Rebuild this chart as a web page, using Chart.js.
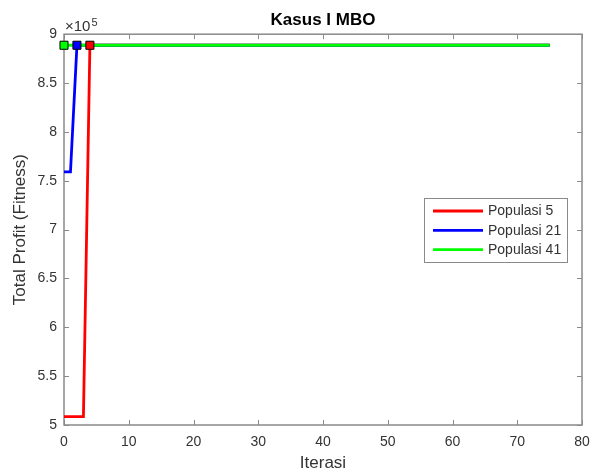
<!DOCTYPE html>
<html>
<head>
<meta charset="utf-8">
<script src="https://cdn.jsdelivr.net/npm/chart.js@4.4.1/dist/chart.umd.min.js"></script>
<style>
  html, body { margin: 0; padding: 0; background: #ffffff; }
  #wrap { width: 590px; height: 472px; }
</style>
</head>
<body>
<div id="wrap"><canvas id="c" width="590" height="472"></canvas></div>
<script>
// ---- data ----
const chartTitle = 'Kasus I MBO';
const xLabel = 'Iterasi';
const yLabel = 'Total Profit (Fitness)';
const seriesNames = ['Populasi 5', 'Populasi 21', 'Populasi 41'];
const seriesColors = ['#ff0000', '#0000ff', '#00ff00'];

// vertices of each convergence curve (iteration, fitness)
const redIter = [0, 3, 4, 75];
const redFitness = [508500, 508500, 888700, 888700];
const blueIter = [0, 1, 2, 75];
const blueFitness = [759000, 759000, 888700, 888700];
const greenIter = [0, 75];
const greenFitness = [888700, 888700];

// iteration where each series first reaches its best value (square marker)
const bestIter = [4, 2, 0];

const xTicksMin = 0, xTicksMax = 80, xStep = 10;
const yTicksMin = 500000, yTicksMax = 900000, yStep = 50000;
const yExponent = 5;

const seriesIter = [redIter, blueIter, greenIter];
const seriesFitness = [redFitness, blueFitness, greenFitness];

function toPoints(xs, ys) { return xs.map((x, i) => ({ x: x, y: ys[i] })); }

const lineSets = seriesNames.map((name, i) => ({
  label: name,
  data: toPoints(seriesIter[i], seriesFitness[i]),
  borderColor: seriesColors[i],
  backgroundColor: seriesColors[i],
  borderWidth: 2.8,
  pointRadius: 0,
  tension: 0,
  fill: false,
  order: 10 - i
}));

const markerSets = seriesNames.map((name, i) => {
  const idx = seriesIter[i].indexOf(bestIter[i]);
  return {
    label: name + ' best',
    data: [{ x: bestIter[i], y: seriesFitness[i][idx] }],
    showLine: false,
    clip: false,
    pointStyle: 'rect',
    pointRadius: 5.7,
    pointBorderWidth: 1,
    pointBorderColor: '#000000',
    pointBackgroundColor: seriesColors[i],
    order: -i
  };
});

const fontFam = '"Liberation Sans", Arial, sans-serif';
const textColor = '#333333';
const axisColor = '#8a8a8a';

const matlabAxes = {
  id: 'matlabAxes',
  beforeDatasetsDraw(chart) {
    const ctx = chart.ctx;
    const a = chart.chartArea;
    const xs = chart.scales.x, ys = chart.scales.y;
    ctx.save();
    ctx.strokeStyle = axisColor;
    ctx.lineWidth = 1.5;
    ctx.strokeRect(a.left, a.top, a.right - a.left, a.bottom - a.top);
    ctx.lineWidth = 1;
    const tl = 5;
    ctx.beginPath();
    xs.ticks.forEach(t => {
      const px = Math.round(xs.getPixelForValue(t.value)) + 0.5;
      ctx.moveTo(px, a.bottom); ctx.lineTo(px, a.bottom - tl);
      ctx.moveTo(px, a.top); ctx.lineTo(px, a.top + tl);
    });
    ys.ticks.forEach(t => {
      const py = Math.round(ys.getPixelForValue(t.value)) + 0.5;
      ctx.moveTo(a.left, py); ctx.lineTo(a.left + tl, py);
      ctx.moveTo(a.right, py); ctx.lineTo(a.right - tl, py);
    });
    ctx.stroke();

    // exponent label
    ctx.fillStyle = textColor;
    ctx.textBaseline = 'alphabetic';
    ctx.textAlign = 'left';
    ctx.font = '15px ' + fontFam;
    const base = '\u00d710';
    ctx.fillText(base, a.left + 1, a.top - 3);
    const w = ctx.measureText(base).width;
    ctx.font = '11px ' + fontFam;
    ctx.fillText(String(yExponent), a.left + 1 + w + 1, a.top - 8);
    ctx.restore();
  },
  afterDraw(chart) {
    // legend box inside plot
    const ctx = chart.ctx;
    const bx = 424, by = 198, bw = 143, bh = 64;
    ctx.save();
    ctx.fillStyle = '#ffffff';
    ctx.fillRect(bx, by, bw, bh);
    ctx.strokeStyle = '#8a8a8a';
    ctx.lineWidth = 1;
    ctx.strokeRect(bx + 0.5, by + 0.5, bw, bh);
    ctx.font = '14px ' + fontFam;
    ctx.textBaseline = 'middle';
    ctx.textAlign = 'left';
    const rowH = 19.3;
    chart.data.datasets.slice(0, seriesNames.length).forEach((ds, i) => {
      const y = by + 13 + i * rowH;
      ctx.strokeStyle = ds.borderColor;
      ctx.lineWidth = 2.8;
      ctx.beginPath();
      ctx.moveTo(bx + 9, y); ctx.lineTo(bx + 59, y);
      ctx.stroke();
      ctx.fillStyle = textColor;
      ctx.fillText(ds.label, bx + 64, y + 0.5);
    });
    ctx.restore();
  }
};

new Chart(document.getElementById('c'), {
  type: 'line',
  data: { datasets: lineSets.concat(markerSets) },
  plugins: [matlabAxes],
  options: {
    responsive: false,
    animation: false,
    devicePixelRatio: 1,
    layout: { padding: { left: 0, right: 8, top: 0, bottom: 0 } },
    plugins: {
      legend: { display: false },
      tooltip: { enabled: false },
      title: {
        display: true,
        text: chartTitle,
        fullSize: false,
        color: '#000000',
        font: { family: fontFam, size: 17, weight: 'bold', lineHeight: 1.2 },
        padding: { top: 10.5, bottom: 3.3 }
      }
    },
    scales: {
      x: {
        type: 'linear',
        min: xTicksMin, max: xTicksMax,
        grid: { display: false, drawTicks: false, tickLength: 0 },
        border: { display: false },
        ticks: {
          stepSize: xStep,
          color: textColor,
          padding: 9,
          maxRotation: 0,
          font: { family: fontFam, size: 14 }
        },
        title: {
          display: true, text: xLabel, color: textColor,
          font: { family: fontFam, size: 17, lineHeight: 1.0 },
          padding: { top: 0, bottom: 0 }
        },
        afterFit(s) { s.height = 47; s.paddingRight = 0; s.paddingLeft = 0; }
      },
      y: {
        type: 'linear',
        min: yTicksMin, max: yTicksMax,
        grid: { display: false, drawTicks: false, tickLength: 0 },
        border: { display: false },
        ticks: {
          stepSize: yStep,
          color: textColor,
          padding: 7,
          callback: v => String(+(v / Math.pow(10, yExponent)).toFixed(2)),
          font: { family: fontFam, size: 14 }
        },
        title: {
          display: true, text: yLabel, color: textColor,
          font: { family: fontFam, size: 17, lineHeight: 1.2 },
          padding: { top: 10, bottom: 0 }
        },
        afterFit(s) { s.width = 64; }
      }
    }
  }
});
</script>
</body>
</html>
